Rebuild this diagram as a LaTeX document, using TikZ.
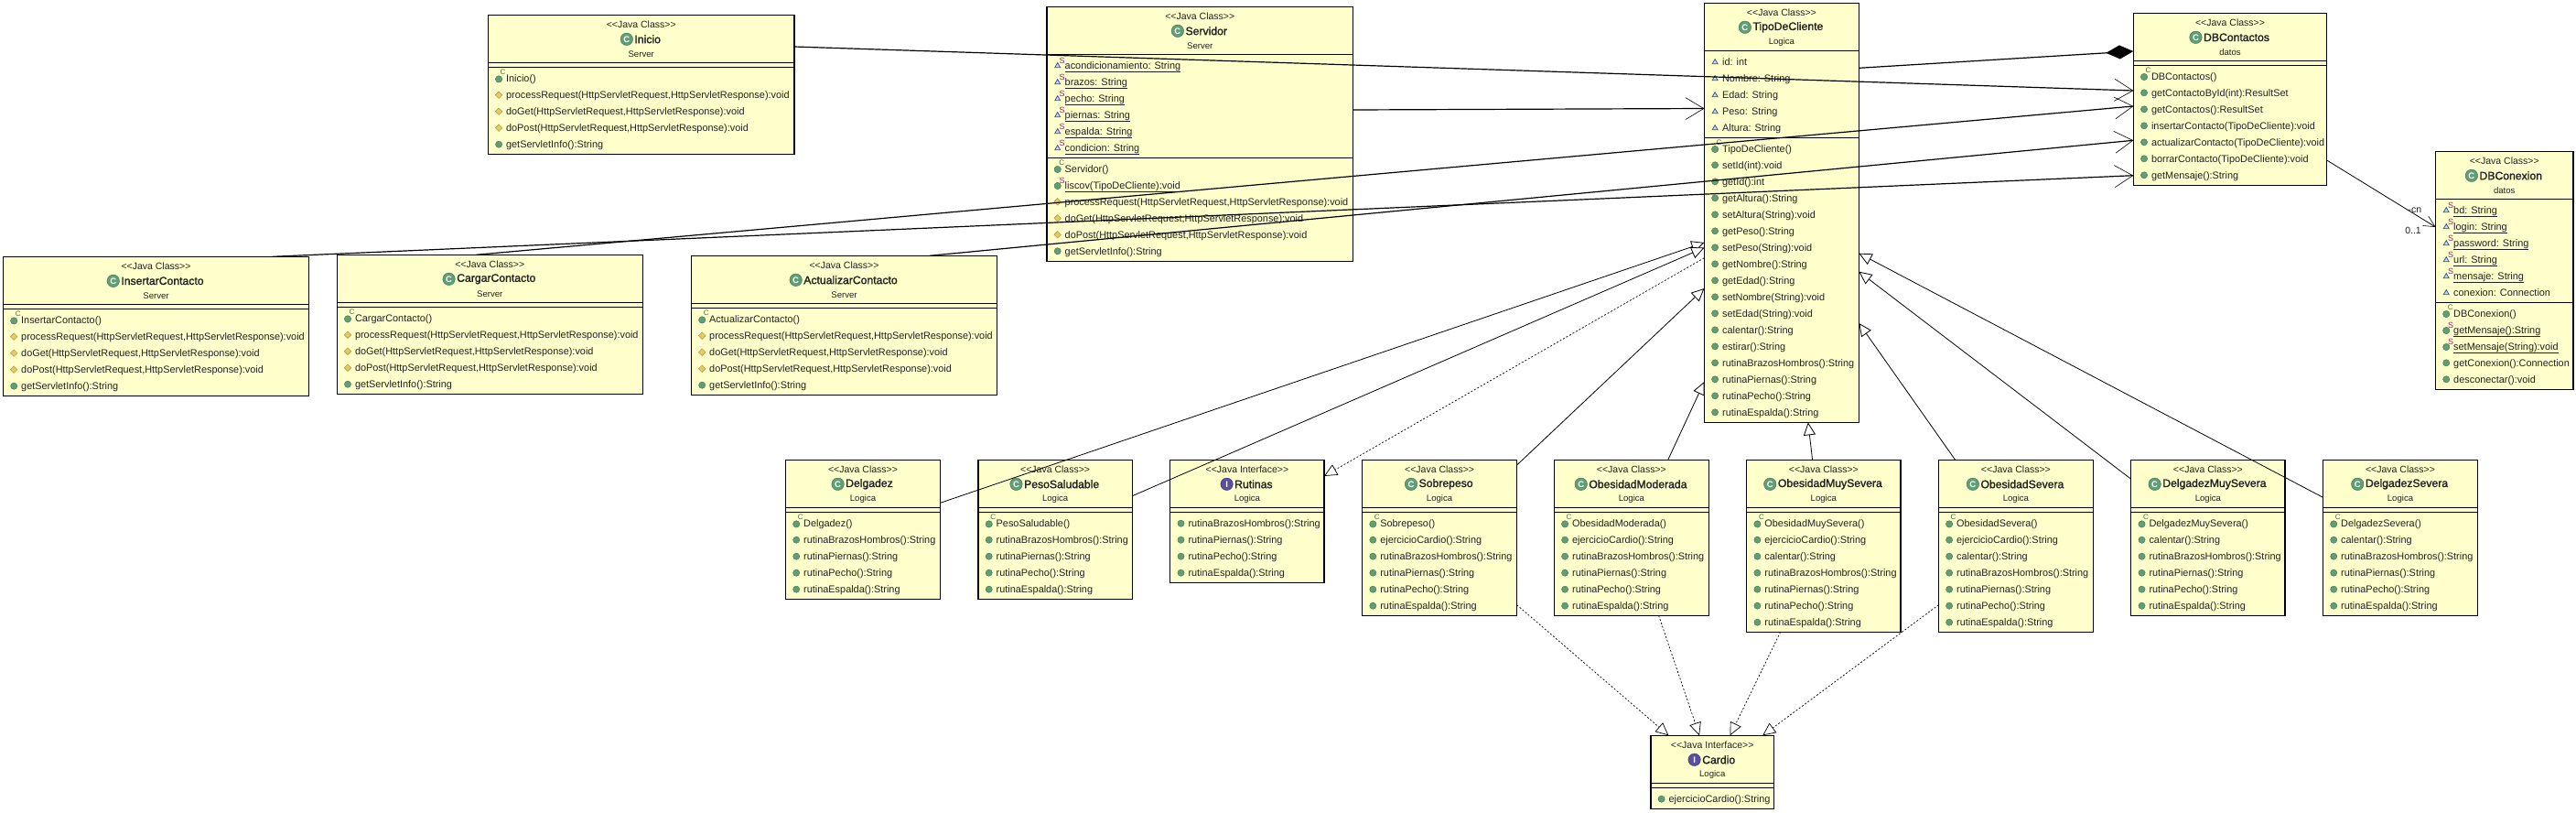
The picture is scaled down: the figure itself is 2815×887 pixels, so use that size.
\documentclass[tikz,border=0pt]{standalone}
\usepackage{fontspec}
\setmainfont{Liberation Sans}
\newfontfamily\titlefont{Liberation Sans}[RawFeature={embolden=1.6}]
\usepackage{tikz}
\usetikzlibrary{arrows.meta,positioning}
\definecolor{boxyellow}{HTML}{FFFFCC}
\definecolor{icongreen}{HTML}{5F9F76}
\definecolor{iconpurple}{HTML}{5A4F9F}
\definecolor{iconblue}{HTML}{2F5F9E}
\definecolor{iconorange}{HTML}{E8C860}
\definecolor{staticred}{HTML}{A02070}
\definecolor{textgray}{HTML}{222222}
\tikzset{
  umlbox/.style={draw=black,line width=1.2pt,fill=boxyellow,anchor=north west,
    inner sep=0pt,outer sep=0pt},
  stereotext/.style={font=\fontsize{10.5}{12}\selectfont,text=textgray,inner sep=0pt},
  titletext/.style={font=\fontsize{12.2}{14}\selectfont\titlefont,text=textgray,inner sep=0pt},
  pkgtext/.style={font=\fontsize{9.6}{11}\selectfont,text=textgray,inner sep=0pt},
  memberrow/.style={font=\fontsize{10.9}{12}\selectfont,text=textgray,anchor=west,
    inner sep=0pt,text height=8pt,text depth=0pt},
  titleicon/.style={circle,fill=#1,draw=#1!70!black,text=white,inner sep=0pt,
    minimum size=13.5pt,font=\fontsize{9.5}{9}\selectfont\bfseries},
  assoc/.style={line width=1.2pt,-{Straight Barb[length=20pt,width=24pt,line width=0.6pt]}},
  thinassoc/.style={line width=0.8pt,-{Straight Barb[length=12pt,width=12pt,line width=0.6pt]}},
  compo/.style={line width=1.2pt,-{Diamond[length=30pt,width=15pt,fill=black]}},
  gener/.style={line width=0.8pt,-{Triangle[open,length=14pt,width=13pt,fill=white]}},
  realize/.style={line width=0.7pt,dash pattern=on 2pt off 2pt,
    -{Triangle[open,length=14pt,width=13pt,fill=white,line width=0.7pt,sep=0pt]}},
  icom/.pic={\fill[icongreen,draw=icongreen!70!black,line width=0.4pt] (0,0) circle (3.6);},
  icop/.pic={\fill[iconorange,draw=iconorange!70!black,line width=0.4pt]
    (-3.8,0) -- (0,-3.8) -- (3.8,0) -- (0,3.8) -- cycle;},
  icoa/.pic={\fill[iconblue!25,draw=iconblue,line width=0.8pt]
    (-3,2.5) -- (3,2.5) -- (0,-2.7) -- cycle;},
  icoc/.pic={\fill[icongreen,draw=icongreen!70!black,line width=0.4pt] (0,0.7) circle (3.7);
    \node (cmark) [text=icongreen!70!black,inner sep=0pt,font=\fontsize{8}{8}\selectfont]
      at (4.5,-6.5) {C};},
  icos/.pic={\fill[iconblue!25,draw=iconblue,line width=0.8pt]
    (-3,2.5) -- (3,2.5) -- (0,-2.7) -- cycle;
    \node (smark) [text=staticred,inner sep=0pt,font=\fontsize{9}{9}\selectfont]
      at (5,-5) {S};},
  icot/.pic={\fill[icongreen,draw=icongreen!70!black,line width=0.4pt] (0,0.7) circle (3.7);
    \node (smark) [text=staticred,inner sep=0pt,font=\fontsize{9}{9}\selectfont]
      at (5,-5) {S};},
}
\newcommand{\stereoC}{<\kern0pt<Java Class>\kern0pt>}
\newcommand{\stereoI}{<\kern0pt<Java Interface>\kern0pt>}
\newcommand{\iconC}{icongreen}
\newcommand{\iconI}{iconpurple}
\newcommand{\ustat}[1]{\setbox0\hbox{#1}\rlap{\raisebox{-3.6pt}{\rule{\wd0}{0.9pt}}}\box0 }
% name, x, y, width, attribute rows, method rows, C or I, title, package
\newcommand{\umlclass}[9]{
  \node (#1) [umlbox,minimum width=#4pt,minimum height={(52+18*#5+18*#6+10)*1pt}] at (#2,#3) {};
  \node (#1-stereo) [stereotext] at ([yshift=-10.5pt]#1.north) {\csname stereo#7\endcsname};
  \node (#1-title) [titletext,xshift=7pt] at ([yshift=-26.5pt]#1.north) {#8};
  \node (#1-icon) [titleicon=\csname icon#7\endcsname,left=1.5pt of #1-title] {#7};
  \node (#1-pkg) [pkgtext] at ([yshift=-42.5pt]#1.north) {#9};
  \draw[line width=1.2pt] ([yshift=-52pt]#1.north west) -- ([yshift=-52pt]#1.north east);
  \draw[line width=1.2pt] ([yshift={-(57+18*#5)*1pt}]#1.north west)
    -- ([yshift={-(57+18*#5)*1pt}]#1.north east);
}
% box, offset of the first row, rows as kind/text
\newcommand{\umlrows}[3]{
  \foreach \kind/\txt [count=\k from 0] in {#3} {
    \pic at ([xshift=11.7pt,yshift={-(#2+18*\k)*1pt}]#1.north west) {ico\kind};
    \node (#1-#2-\k) [memberrow] at ([xshift=19.5pt,yshift={-(#2+18*\k)*1pt}]#1.north west) {\txt};
  }
}
\begin{document}
\begin{tikzpicture}[x=1pt,y=-1pt]
  \useasboundingbox (0,0) rectangle (2815,887);
  \fill[white] (0,0) rectangle (2815,887);

  % server side
  \umlclass{inicio}{533.4}{16.3}{334.6}{0}{5}{C}{Inicio}{Server}
  \umlrows{inicio}{69.4}{c/Inicio(),p/{processRequest(HttpServletRequest,HttpServletResponse):void},
    p/{doGet(HttpServletRequest,HttpServletResponse):void},
    p/{doPost(HttpServletRequest,HttpServletResponse):void},m/{getServletInfo():String}}
  \umlclass{servidor}{1144}{7.3}{334.5}{6}{6}{C}{Servidor}{Server}
  \umlrows{servidor}{64}{s/\ustat{acondicionamiento: String},s/\ustat{brazos: String},
    s/\ustat{pecho: String},s/\ustat{piernas: String},s/\ustat{espalda: String},
    s/\ustat{condicion: String}}
  \umlrows{servidor}{177}{c/Servidor(),t/\ustat{liscov(TipoDeCliente):void},
    p/{processRequest(HttpServletRequest,HttpServletResponse):void},
    p/{doGet(HttpServletRequest,HttpServletResponse):void},
    p/{doPost(HttpServletRequest,HttpServletResponse):void},m/{getServletInfo():String}}
  \umlclass{insertar}{3.5}{280.3}{334}{0}{5}{C}{InsertarContacto}{Server}
  \umlrows{insertar}{69.4}{c/InsertarContacto(),p/{processRequest(HttpServletRequest,HttpServletResponse):void},
    p/{doGet(HttpServletRequest,HttpServletResponse):void},
    p/{doPost(HttpServletRequest,HttpServletResponse):void},m/{getServletInfo():String}}
  \umlclass{cargar}{368.3}{278.3}{334}{0}{5}{C}{CargarContacto}{Server}
  \umlrows{cargar}{69.4}{c/CargarContacto(),p/{processRequest(HttpServletRequest,HttpServletResponse):void},
    p/{doGet(HttpServletRequest,HttpServletResponse):void},
    p/{doPost(HttpServletRequest,HttpServletResponse):void},m/{getServletInfo():String}}
  \umlclass{actualizar}{755.5}{279.3}{334}{0}{5}{C}{ActualizarContacto}{Server}
  \umlrows{actualizar}{69.4}{c/ActualizarContacto(),p/{processRequest(HttpServletRequest,HttpServletResponse):void},
    p/{doGet(HttpServletRequest,HttpServletResponse):void},
    p/{doPost(HttpServletRequest,HttpServletResponse):void},m/{getServletInfo():String}}

  % data side
  \umlclass{dbcontactos}{2331.3}{14.3}{211.4}{0}{7}{C}{DBContactos}{datos}
  \umlrows{dbcontactos}{69}{c/DBContactos(),m/getContactoById(int):ResultSet,m/getContactos():ResultSet,
    m/insertarContacto(TipoDeCliente):void,m/actualizarContacto(TipoDeCliente):void,
    m/borrarContacto(TipoDeCliente):void,m/getMensaje():String}
  \umlclass{dbconexion}{2661.5}{165.3}{150.5}{6}{5}{C}{DBConexion}{datos}
  \umlrows{dbconexion}{64}{s/\ustat{bd: String},s/\ustat{login: String},s/\ustat{password: String},
    s/\ustat{url: String},s/\ustat{mensaje: String},a/conexion: Connection}
  \umlrows{dbconexion}{177}{c/DBConexion(),t/\ustat{getMensaje():String},t/\ustat{setMensaje(String):void},
    m/getConexion():Connection,m/desconectar():void}

  % logic side
  \umlclass{tipo}{1862.4}{3.3}{169}{5}{17}{C}{TipoDeCliente}{Logica}
  \umlrows{tipo}{64}{a/id: int,a/Nombre: String,a/Edad: String,a/Peso: String,a/Altura: String}
  \umlrows{tipo}{159}{c/TipoDeCliente(),m/setId(int):void,m/getId():int,m/getAltura():String,
    m/setAltura(String):void,m/getPeso():String,m/setPeso(String):void,m/getNombre():String,
    m/getEdad():String,m/setNombre(String):void,m/setEdad(String):void,m/calentar():String,
    m/estirar():String,m/rutinaBrazosHombros():String,m/rutinaPiernas():String,
    m/rutinaPecho():String,m/rutinaEspalda():String}
  \umlclass{delgadez}{858.5}{502.3}{169}{0}{5}{C}{Delgadez}{Logica}
  \umlrows{delgadez}{69.4}{c/Delgadez(),m/rutinaBrazosHombros():String,m/rutinaPiernas():String,
    m/rutinaPecho():String,m/rutinaEspalda():String}
  \umlclass{peso}{1069}{502.3}{168.3}{0}{5}{C}{PesoSaludable}{Logica}
  \umlrows{peso}{69.4}{c/PesoSaludable(),m/rutinaBrazosHombros():String,m/rutinaPiernas():String,
    m/rutinaPecho():String,m/rutinaEspalda():String}
  \umlclass{rutinas}{1278.8}{502.3}{168.2}{0}{4}{I}{Rutinas}{Logica}
  \umlrows{rutinas}{69.4}{m/rutinaBrazosHombros():String,m/rutinaPiernas():String,
    m/rutinaPecho():String,m/rutinaEspalda():String}
  \umlclass{sobrepeso}{1488.6}{502.3}{169}{0}{6}{C}{Sobrepeso}{Logica}
  \umlrows{sobrepeso}{69.4}{c/Sobrepeso(),m/ejercicioCardio():String,m/rutinaBrazosHombros():String,
    m/rutinaPiernas():String,m/rutinaPecho():String,m/rutinaEspalda():String}
  \umlclass{moderada}{1698.4}{502.3}{169}{0}{6}{C}{ObesidadModerada}{Logica}
  \umlrows{moderada}{69.4}{c/ObesidadModerada(),m/ejercicioCardio():String,m/rutinaBrazosHombros():String,
    m/rutinaPiernas():String,m/rutinaPecho():String,m/rutinaEspalda():String}
  \umlclass{muysevera}{1908.7}{502.3}{168.3}{0}{7}{C}{ObesidadMuySevera}{Logica}
  \umlrows{muysevera}{69.4}{c/ObesidadMuySevera(),m/ejercicioCardio():String,m/calentar():String,
    m/rutinaBrazosHombros():String,m/rutinaPiernas():String,m/rutinaPecho():String,m/rutinaEspalda():String}
  \umlclass{severa}{2118.4}{502.3}{169}{0}{7}{C}{ObesidadSevera}{Logica}
  \umlrows{severa}{69.4}{c/ObesidadSevera(),m/ejercicioCardio():String,m/calentar():String,
    m/rutinaBrazosHombros():String,m/rutinaPiernas():String,m/rutinaPecho():String,m/rutinaEspalda():String}
  \umlclass{delgmuy}{2328.8}{502.3}{168.2}{0}{6}{C}{DelgadezMuySevera}{Logica}
  \umlrows{delgmuy}{69.4}{c/DelgadezMuySevera(),m/calentar():String,m/rutinaBrazosHombros():String,
    m/rutinaPiernas():String,m/rutinaPecho():String,m/rutinaEspalda():String}
  \umlclass{delgsev}{2538.5}{502.3}{169}{0}{6}{C}{DelgadezSevera}{Logica}
  \umlrows{delgsev}{69.4}{c/DelgadezSevera(),m/calentar():String,m/rutinaBrazosHombros():String,
    m/rutinaPiernas():String,m/rutinaPecho():String,m/rutinaEspalda():String}
  \umlclass{cardio}{1803.9}{803.3}{134.6}{0}{1}{I}{Cardio}{Logica}
  \umlrows{cardio}{69.4}{m/ejercicioCardio():String}

  % connectors
  \draw[assoc] ([yshift=-34.7pt]inicio.north east) -- ([yshift=-84.7pt]dbcontactos.north west);
  \draw[assoc] ([yshift=-112.7pt]servidor.north east) -- ([yshift=-115.2pt]tipo.north west);
  \draw[compo] ([yshift=-71pt]tipo.north east) -- ([yshift=-41.7pt]dbcontactos.north west);
  \draw[assoc] ([xshift=294.5pt]insertar.north west) -- ([yshift=-177.4pt]dbcontactos.north west);
  \draw[assoc] ([xshift=152pt]cargar.north west) -- ([yshift=-101.7pt]dbcontactos.north west);
  \draw[assoc] ([xshift=260.5pt]actualizar.north west) -- ([yshift=-139pt]dbcontactos.north west);
  \draw[thinassoc] ([yshift=27.3pt]dbcontactos.south east) -- ([yshift=-82.7pt]dbconexion.north west);
  \node (cnlabel) [stereotext] at (2639,229.7) {-cn};
  \node (multlabel) [stereotext] at (2637,252) {0..1};

  \draw[gener] ([yshift=-47pt]delgadez.north east) -- ([yshift=-261.7pt]tipo.north west);
  \draw[gener] ([yshift=-39.4pt]peso.north east) -- ([yshift=-267.2pt]tipo.north west);
  \draw[realize] ([yshift=-278.4pt]tipo.north west) -- ([yshift=-17.7pt]rutinas.north east);
  \draw[gener] ([yshift=-5.7pt]sobrepeso.north east) -- ([yshift=-311.7pt]tipo.north west);
  \draw[gener] ([xshift=124.3pt]moderada.north west) -- ([yshift=-413.7pt]tipo.north west);
  \draw[gener] ([xshift=71.9pt]muysevera.north west) -- ([xshift=113.4pt]tipo.south west);
  \draw[gener] ([xshift=18.2pt]severa.north west) -- ([yshift=-349.7pt]tipo.north east);
  \draw[gener] ([yshift=-21pt]delgmuy.north west) -- ([yshift=-293.4pt]tipo.north east);
  \draw[gener] ([yshift=-41pt]delgsev.north west) -- ([yshift=-273.4pt]tipo.north east);

  \draw[realize] ([yshift=11.6pt]sobrepeso.south east) -- ([xshift=19.5pt]cardio.north west);
  \draw[realize] ([xshift=114.2pt]moderada.south west) -- ([xshift=53.1pt]cardio.north west);
  \draw[realize] ([xshift=36.9pt]muysevera.south west) -- ([xshift=86.7pt]cardio.north west);
  \draw[realize] ([yshift=29.6pt]severa.south west) -- ([xshift=122.3pt]cardio.north west);
\end{tikzpicture}
\end{document}
